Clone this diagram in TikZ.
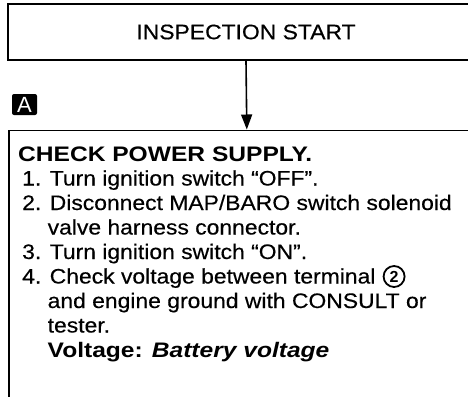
\documentclass[tikz,border=0pt]{standalone}
\usepackage{fontspec}
\setmainfont{Liberation Sans}
\newfontfamily\regf{Liberation Sans}[FakeStretch=1.09,FakeBold=0.4]
\newfontfamily\headf{Liberation Sans}[FakeStretch=1.17]
\usetikzlibrary{arrows.meta}
\begin{document}
\begin{tikzpicture}[x=1pt,y=-1pt,
  boxline/.style={draw=black,line width=1.6pt},
  txt/.style={anchor=base west,inner sep=0pt,font=\regf\fontsize{21}{24}\selectfont},
  hd/.style={anchor=base west,inner sep=0pt,font=\headf\bfseries\fontsize{21}{24}\selectfont},
  tagbox/.style={fill=black,text=white,rounded corners=2pt,minimum width=25pt,minimum height=21pt,inner sep=0pt,font=\fontsize{22}{22}\selectfont},
  circnum/.style={draw=black,circle,line width=1.8pt,inner sep=0pt,minimum size=21pt,font=\bfseries\fontsize{16}{16}\selectfont},
  flow/.style={line width=1.6pt,-{Triangle[length=15pt,width=11pt]}}]
\useasboundingbox (0,0) rectangle (468,396);
\clip (0,0) rectangle (468,396);
\node[boxline,rectangle,minimum width=476pt,minimum height=56pt,inner sep=0pt,
  font=\regf\fontsize{21}{24}\selectfont] (start) at (246,32) {INSPECTION START};
\node[boxline,rectangle,anchor=north west,minimum width=476pt,minimum height=280pt,inner sep=0pt] (check) at (8,129.5) {};
\node[tagbox] (tagA) at (24.5,104.5) {A};
\draw[flow] (start.south) -- (check.north);
\node[hd] (l0) at (18,161) {CHECK POWER SUPPLY.};
\node[txt] (l1) at (22,185.5) {1. Turn ignition switch “OFF”.};
\node[txt] (l2) at (22,210) {2. Disconnect MAP/BARO switch solenoid};
\node[txt] (l3) at (47.5,234.5) {valve harness connector.};
\node[txt] (l4) at (22,259) {3. Turn ignition switch “ON”.};
\node[txt] (l5) at (22,283.5) {4. Check voltage between terminal};
\node[circnum,anchor=west] (t2) at ([xshift=7pt,yshift=7pt]l5.base east) {2};
\node[txt] (l6) at (47.5,308) {and engine ground with CONSULT or};
\node[txt] (l7) at (47.5,332.5) {tester.};
\node[hd] (l8) at (47.5,357) {Voltage: \itshape Battery voltage};
\end{tikzpicture}
\end{document}
